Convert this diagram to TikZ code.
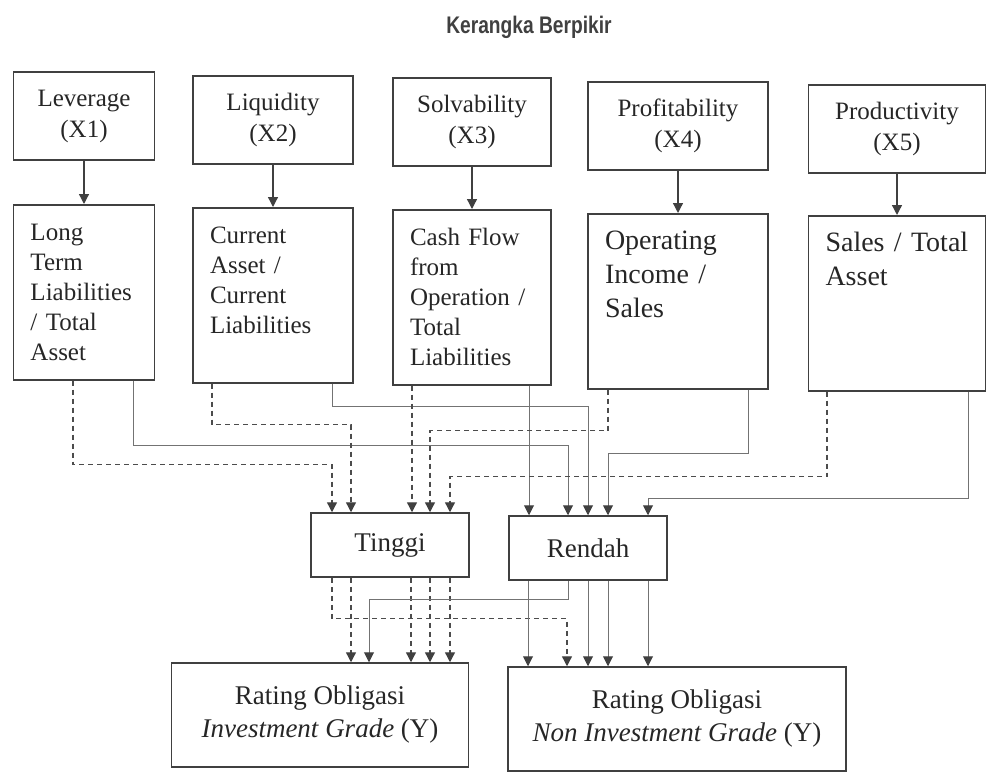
\documentclass[tikz,border=0pt]{standalone}
\usepackage{fontspec}
\setmainfont{Liberation Serif}
\newfontfamily\titlefont[FakeStretch=0.8]{Liberation Sans}
\usepackage{tikz}
\usepackage{xcolor}
\usetikzlibrary{shapes,arrows.meta}

\begin{document}
\begin{tikzpicture}[x=1pt,y=-1pt]%[scale=2.5]
\tikzstyle{every node}=[draw=black!75,line width=1.5pt,shape=rectangle,text=black!85];
\tikzstyle{var}=[minimum width=#1,minimum height=88pt,align=center,font=\fontsize{25}{31}\selectfont];
\tikzstyle{ratio}=[anchor=north,text width=#1,align=left,inner xsep=17pt,inner ysep=10pt,text height=26pt,text depth=129pt,font=\fontsize{25}{30}\selectfont];
\tikzstyle{big}=[font=\fontsize{28}{34}\selectfont];
\tikzstyle{level}=[minimum width=158pt,minimum height=64pt,font=\fontsize{27}{32}\selectfont];
\tikzstyle{grade}=[minimum height=104pt,align=center,font=\fontsize{27}{33}\selectfont];
\tikzstyle{aline}=[draw=black!75,line width=1.3pt,-{Triangle[width=10pt,length=10pt]}];
\tikzstyle{sline}=[draw=black!55,line width=1pt,-{Triangle[width=10pt,length=10pt,color=black!75]}];
\tikzstyle{dline}=[draw=black!70,line width=1.3pt,dash pattern=on 5pt off 4pt,-{Triangle[width=10pt,length=10pt,color=black!75]}];

\useasboundingbox (0,0) rectangle (988,773);

\draw node[draw=none,font=\titlefont\bfseries\fontsize{24}{28}\selectfont,text=black!75] (title) at (529,27) {Kerangka Berpikir};

\draw node foreach \x/\c/\y/\w/\t in {1/84/116/141/Leverage,2/273/120/160/Liquidity,3/472/122/158/Solvability,4/678/126/180/Profitability,5/897/129/177/Productivity} [var=\w pt] (x\x) at (\c,\y) {\t\\(X\x)};

\draw node[ratio=107pt] (r1) at (84,204) {Long\\Term\\Liabilities\\/ Total\\Asset};
\draw node[ratio=126pt] (r2) at (273,207) {Current\\Asset /\\Current\\Liabilities};
\draw node[ratio=124pt] (r3) at (472,209) {Cash Flow\\from\\Operation /\\Total\\Liabilities};
\draw node[ratio=146pt,big] (r4) at (678,213) {Operating\\Income /\\Sales};
\draw node[ratio=143pt,big] (r5) at (897,215) {Sales / Total\\Asset};

\draw node[level] (tg) at (390,545) {Tinggi};
\draw node[level] (rd) at (588,548) {Rendah};
\draw node[grade,minimum width=297pt] (ig) at (320,715) {Rating Obligasi\\\textit{Investment Grade} (Y)};
\draw node[grade,minimum width=338pt] (nig) at (677,719) {Rating Obligasi\\\textit{Non Investment Grade} (Y)};

\foreach \x in {1,...,5}
  \draw[aline] (x\x.south) -- (r\x.north);

\draw[dline] ([xshift=-11pt]r1.south) -- ++(0,84) -| ([xshift=-58pt]tg.north);
\draw[sline] ([xshift=49pt]r1.south) -- ++(0,65) -| ([xshift=-20pt]rd.north);
\draw[dline] ([xshift=-61pt]r2.south) -- ++(0,41) -| ([xshift=-39pt]tg.north);
\draw[sline] ([xshift=59pt]r2.south) -- ++(0,23) -| (rd.north);
\draw[dline] ([xshift=-60pt]r3.south) -- ([xshift=-60pt]r3.south |- tg.north);
\draw[sline] ([xshift=57pt]r3.south) -- ([xshift=57pt]r3.south |- rd.north);
\draw[dline] ([xshift=-70pt]r4.south) -- ++(0,41) -| ([xshift=40pt]tg.north);
\draw[sline] ([xshift=70pt]r4.south) -- ++(0,64) -| ([xshift=20pt]rd.north);
\draw[dline] ([xshift=-70pt]r5.south) -- ++(0,85) -| ([xshift=60pt]tg.north);
\draw[sline] ([xshift=71pt]r5.south) -- ++(0,107) -| ([xshift=60pt]rd.north);

\draw[dline] ([xshift=-58pt]tg.south) -- ++(0,41) -| ([xshift=-110pt]nig.north);
\foreach \d in {-39,21,40,60}
  \draw[dline] ([xshift=\d pt]tg.south) -- ([xshift=\d pt]tg.south |- ig.north);
\draw[sline] ([xshift=-20pt]rd.south) -- ++(0,19) -| ([xshift=49pt]ig.north);
\foreach \d in {-60,0,20,60}
  \draw[sline] ([xshift=\d pt]rd.south) -- ([xshift=\d pt]rd.south |- nig.north);
\end{tikzpicture}
\end{document}
